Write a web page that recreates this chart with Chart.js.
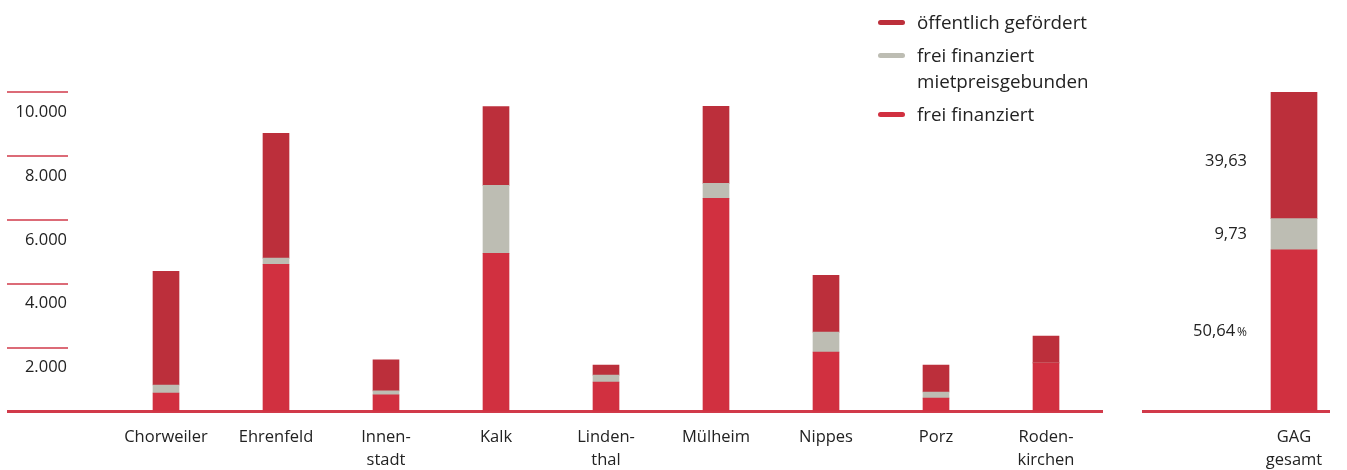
<!DOCTYPE html>
<html lang="de">
<head>
<meta charset="utf-8">
<script src="https://cdn.jsdelivr.net/npm/chart.js@4/dist/chart.umd.min.js"></script>
<style>
    html, body { margin: 0; padding: 0; background: #fff; }
    body {
        width: 1347px; height: 470px; position: relative; overflow: hidden;
        font-family: 'Open Sans', sans-serif; color: #222;
    }
    #main-wrap { position: absolute; left: 0; top: 0; width: 1115px; height: 470px; }
    #total-wrap { position: absolute; left: 1130px; top: 0; width: 217px; height: 470px; }
    #legend { position: absolute; left: 878px; top: 9px; margin: 0; padding: 0; list-style: none; }
    #legend li { display: flex; align-items: flex-start; margin-bottom: 7px; font-size: 18.8px; line-height: 26px; }
    #legend .mark { width: 27px; height: 5px; border-radius: 3px; margin-top: 11px; margin-right: 12px; flex: none; }
</style>
</head>
<body>
<div id="main-wrap"><canvas id="chart"></canvas></div>
<div id="total-wrap"><canvas id="chart-total"></canvas></div>
<ul id="legend"></ul>

<script>
// --- Daten ---
const districts = ['Chorweiler', 'Ehrenfeld', ['Innen-', 'stadt'], 'Kalk', ['Linden-', 'thal'],
                   'Mülheim', 'Nippes', 'Porz', ['Roden-', 'kirchen']];
const freiFinanziert    = [580, 4610, 520, 4950, 920, 6670, 1860, 420, 1520];
const mietpreisgebunden = [250, 190, 125, 2125, 220, 470, 625, 190, 0];
const oeffentlich       = [3560, 3910, 970, 2470, 310, 2410, 1780, 840, 840];

const totalLabel = [['GAG', 'gesamt']];
const totalFrei  = [50.64];
const totalMiet  = [9.73];
const totalOeff  = [39.63];

const yTicks = [0, 2000, 4000, 6000, 8000, 10000];

// --- Farben ---
const RED = '#d13040';
const DARK = '#bc2f3b';
const GREY = '#bdbdb3';
const LINE = '#d13a4a';
const TEXT = '#222';
const FONT = "'Open Sans', sans-serif";

// --- Legende (HTML, wegen zweizeiligem Eintrag) ---
const legendItems = [
    { color: DARK, text: 'öffentlich gefördert' },
    { color: GREY, text: 'frei finanziert<br>mietpreisgebunden' },
    { color: RED,  text: 'frei finanziert' }
];
document.getElementById('legend').innerHTML = legendItems
    .map(i => `<li><span class="mark" style="background:${i.color}"></span><span>${i.text}</span></li>`)
    .join('');

// Kurze Linien an den Ticks + Grundlinie
const axisLines = {
    id: 'axisLines',
    beforeDatasetsDraw(chart, args, opts) {
        const { ctx, scales: { y } } = chart;
        ctx.save();
        ctx.strokeStyle = LINE;
        if (opts.ticks) {
            ctx.lineWidth = 1.5;
            y.ticks.forEach(t => {
                if (t.value === 0) return;
                const py = Math.round(y.getPixelForValue(t.value));
                ctx.beginPath();
                ctx.moveTo(opts.from, py);
                ctx.lineTo(opts.tickTo, py);
                ctx.stroke();
            });
        }
        const by = y.getPixelForValue(0);
        ctx.lineWidth = 3;
        ctx.beginPath();
        ctx.moveTo(opts.from, by);
        ctx.lineTo(opts.baseTo, by);
        ctx.stroke();
        ctx.restore();
    }
};

// Prozentwerte links neben der Gesamtsäule
const segmentLabels = {
    id: 'segmentLabels',
    afterDatasetsDraw(chart, args, opts) {
        const { ctx } = chart;
        ctx.save();
        ctx.fillStyle = TEXT;
        ctx.textBaseline = 'middle';
        ctx.textAlign = 'right';
        chart.data.datasets.forEach((ds, i) => {
            const bar = chart.getDatasetMeta(i).data[0];
            const y = (bar.y + bar.base) / 2 + (opts.shift[i] || 0);
            const txt = ds.data[0].toFixed(2).replace('.', ',');
            if (i === 0) {
                ctx.font = `12px ${FONT}`;
                const pw = ctx.measureText('%').width;
                ctx.fillText('%', opts.x, y + 1);
                ctx.font = `16.5px ${FONT}`;
                ctx.fillText(txt, opts.x - pw - 2, y);
            } else {
                ctx.font = `16.5px ${FONT}`;
                ctx.fillText(txt, opts.x, y);
            }
        });
        ctx.restore();
    }
};

const xAxis = {
    grid: { display: false, drawTicks: false },
    border: { display: false },
    ticks: {
        color: TEXT,
        font: { family: FONT, size: 16.5, lineHeight: 1.35 },
        padding: 15,
        maxRotation: 0,
        autoSkip: false
    },
    afterFit: scale => { scale.height = 58.5; }
};

new Chart(document.getElementById('chart'), {
    type: 'bar',
    data: {
        labels: districts,
        datasets: [
            { label: 'frei finanziert', data: freiFinanziert, backgroundColor: RED },
            { label: 'frei finanziert mietpreisgebunden', data: mietpreisgebunden, backgroundColor: GREY },
            { label: 'öffentlich gefördert', data: oeffentlich, backgroundColor: DARK }
        ]
    },
    options: {
        responsive: true,
        maintainAspectRatio: false,
        animation: false,
        layout: { padding: { top: 92, right: 14, left: 0, bottom: 0 } },
        datasets: { bar: { barThickness: 26, borderWidth: 0 } },
        plugins: {
            legend: { display: false },
            tooltip: { enabled: false },
            axisLines: { from: 7, tickTo: 68, baseTo: 1103, ticks: true }
        },
        scales: {
            x: { stacked: true, ...xAxis },
            y: {
                stacked: true,
                min: 0,
                max: 10000,
                afterBuildTicks: scale => { scale.ticks = yTicks.map(v => ({ value: v })); },
                grid: { display: false, drawTicks: false },
                border: { display: false },
                ticks: {
                    color: TEXT,
                    font: { family: FONT, size: 16.5 },
                    padding: 44,
                    labelOffset: 20,
                    callback: v => v === 0 ? '' : v.toLocaleString('de-DE')
                },
                afterFit: scale => { scale.width = 111; }
            }
        }
    },
    plugins: [axisLines]
});

new Chart(document.getElementById('chart-total'), {
    type: 'bar',
    data: {
        labels: totalLabel,
        datasets: [
            { label: 'frei finanziert', data: totalFrei, backgroundColor: RED },
            { label: 'frei finanziert mietpreisgebunden', data: totalMiet, backgroundColor: GREY },
            { label: 'öffentlich gefördert', data: totalOeff, backgroundColor: DARK }
        ]
    },
    options: {
        responsive: true,
        maintainAspectRatio: false,
        animation: false,
        layout: { padding: { top: 92, right: 17, left: 128, bottom: 0 } },
        datasets: { bar: { barThickness: 46, borderWidth: 0 } },
        plugins: {
            legend: { display: false },
            tooltip: { enabled: false },
            axisLines: { from: 12, baseTo: 200, ticks: false },
            segmentLabels: { x: 117, shift: [1, 0, 6] }
        },
        scales: {
            x: { stacked: true, ...xAxis },
            y: { stacked: true, display: false, min: 0, max: 100 }
        }
    },
    plugins: [axisLines, segmentLabels]
});
</script>
</body>
</html>
